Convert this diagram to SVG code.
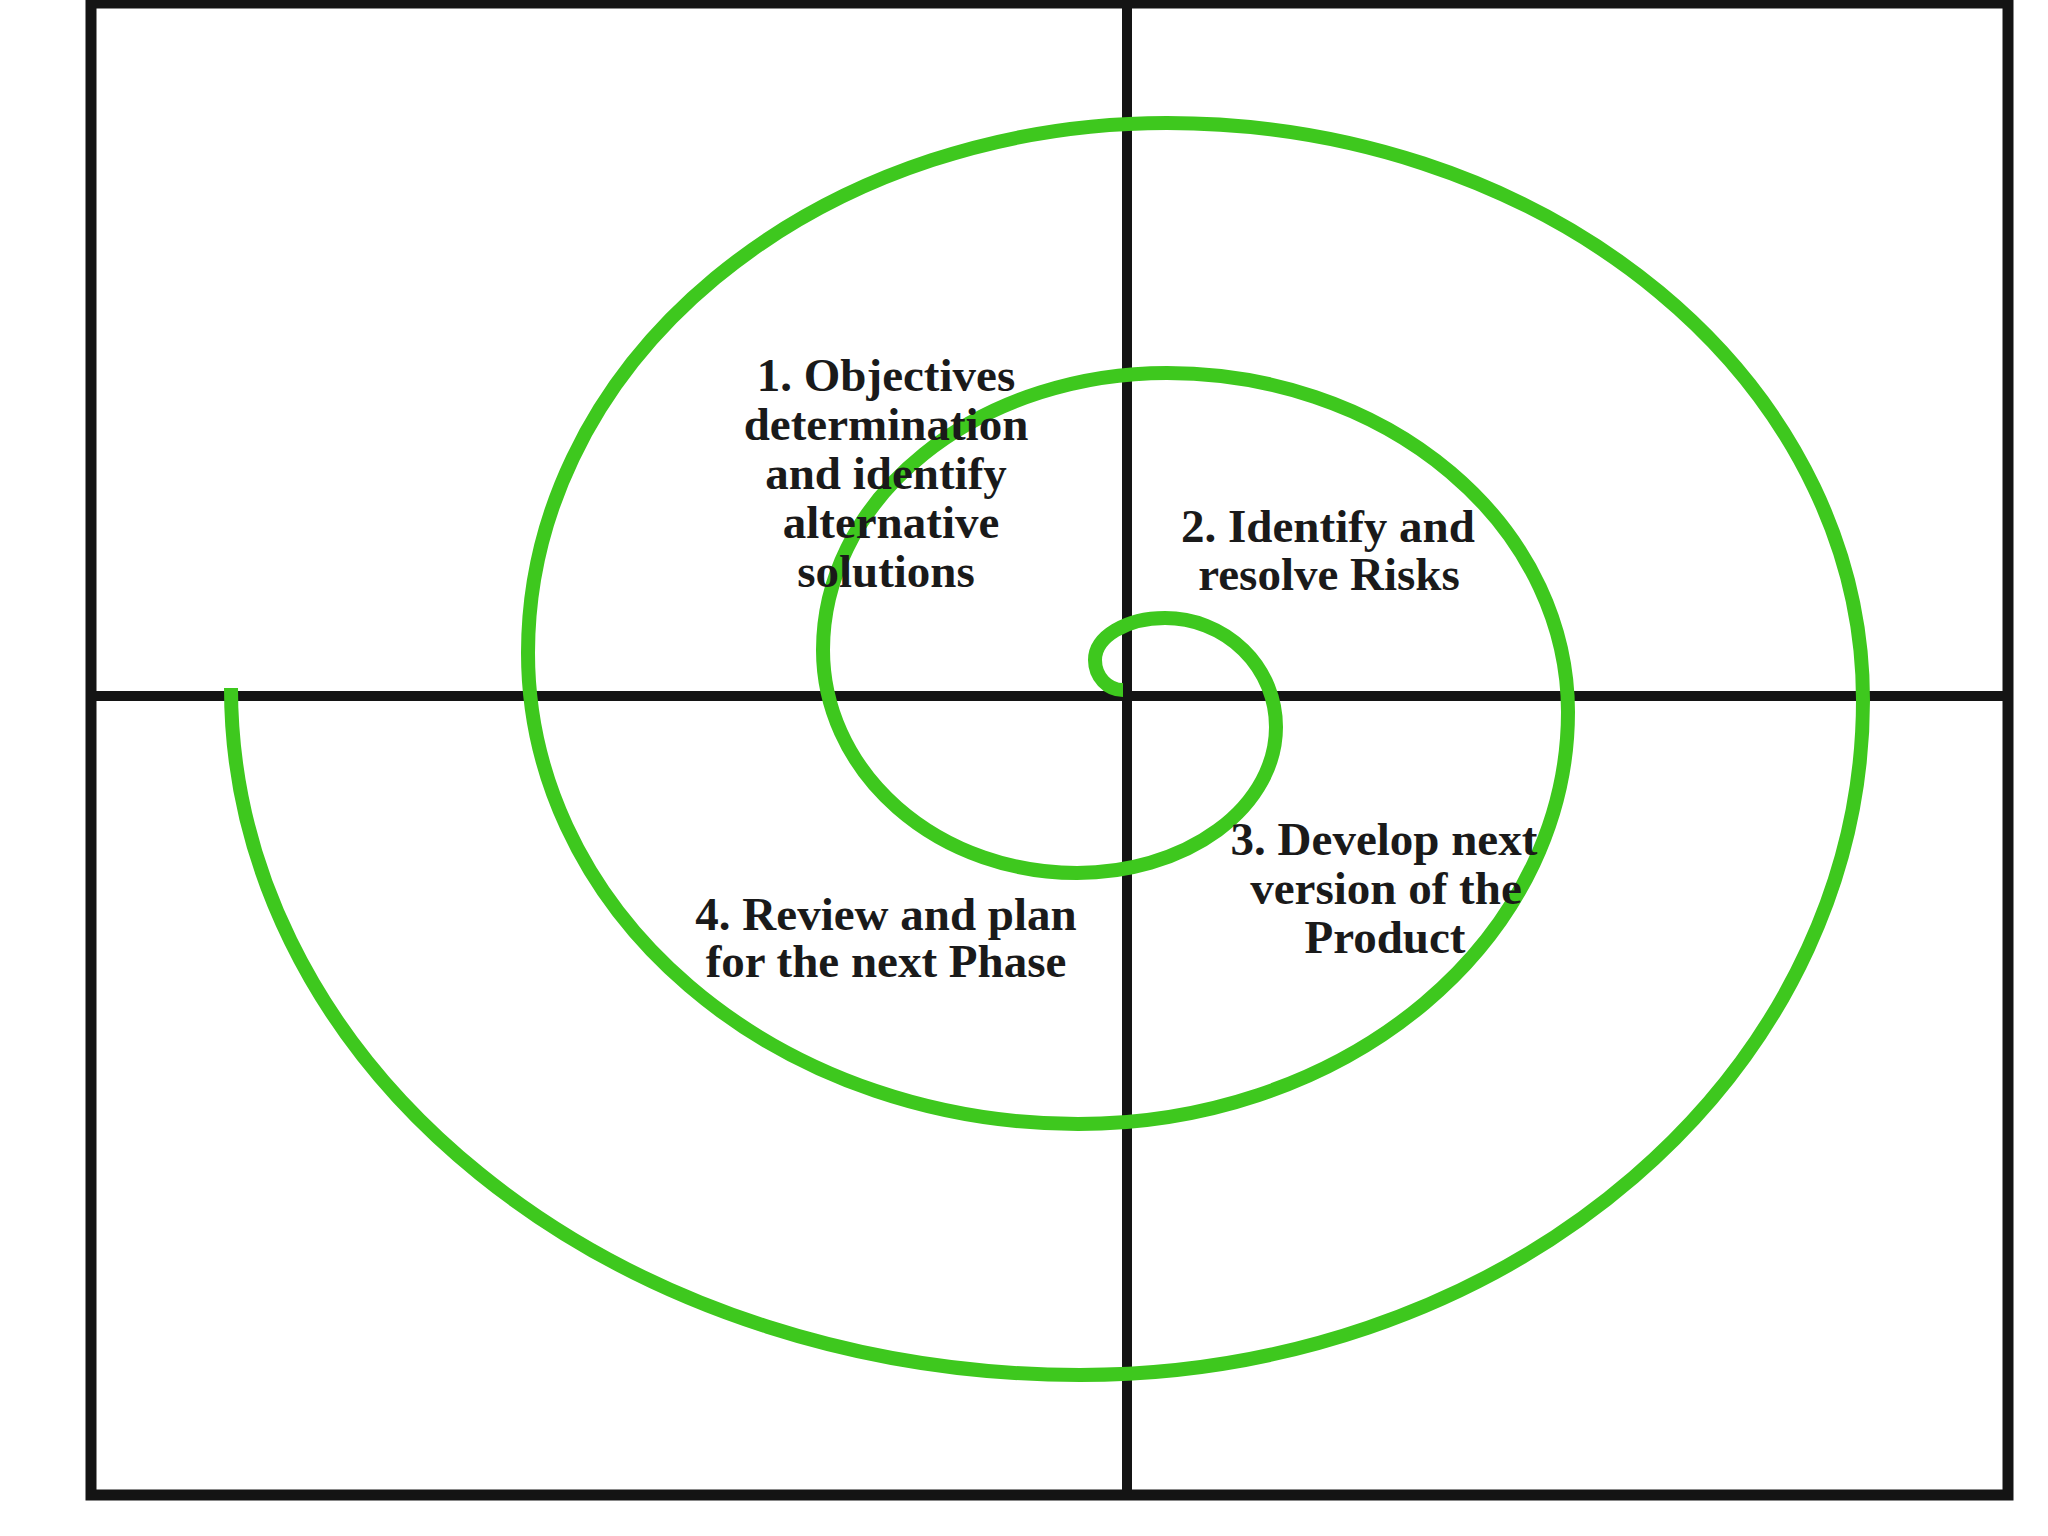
<svg xmlns="http://www.w3.org/2000/svg" width="2048" height="1536" viewBox="0 0 2048 1536">
<style>
.frame{fill:none;stroke:#141414;stroke-width:11}
.axis{stroke:#141414;stroke-width:10}
.spiral{fill:none;stroke:#3ec81e;stroke-width:14;stroke-linecap:butt}
.lbl{font-family:"Liberation Serif","Times New Roman",serif;font-weight:bold;font-size:47px;fill:#1a1a1a;text-anchor:middle}
</style>
<rect width="2048" height="1536" fill="#ffffff"/>
<g id="frame">
<rect class="frame" x="91" y="3" width="1917" height="1492"/>
</g>
<g id="connectors">
<line class="axis" x1="1127" y1="0" x2="1127" y2="1495"/>
<line class="axis" x1="91" y1="696" x2="2008" y2="696"/>
<path class="spiral" d="M 1123 690 A 28 30 0 0 1 1095 660 A 70 42 0 0 1 1165 618 A 111 109 0 0 1 1276 727 A 199 146 0 0 1 1077 873 A 254 223 0 0 1 823 650 A 344 277 0 0 1 1167 373 A 401 339 0 0 1 1568 712 A 490 412 0 0 1 1078 1124 A 550 471 0 0 1 528 653 A 639 530 0 0 1 1167 123 A 696 577 0 0 1 1863 700 A 783 675 0 0 1 1080 1375 A 849 687 0 0 1 231 688"/>
</g>
<g id="node1">
<text class="lbl" x="886" y="391">1. Objectives</text>
<text class="lbl" x="886" y="440">determination</text>
<text class="lbl" x="886" y="489">and identify</text>
<text class="lbl" x="891" y="538">alternative</text>
<text class="lbl" x="886" y="587">solutions</text>
</g>
<g id="node2">
<text class="lbl" x="1328" y="542">2. Identify and</text>
<text class="lbl" x="1329" y="590">resolve Risks</text>
</g>
<g id="node3">
<text class="lbl" x="1384" y="855">3. Develop next</text>
<text class="lbl" x="1386" y="904">version of the</text>
<text class="lbl" x="1385" y="953">Product</text>
</g>
<g id="node4">
<text class="lbl" x="886" y="930">4. Review and plan</text>
<text class="lbl" x="886" y="977">for the next Phase</text>
</g>
</svg>
